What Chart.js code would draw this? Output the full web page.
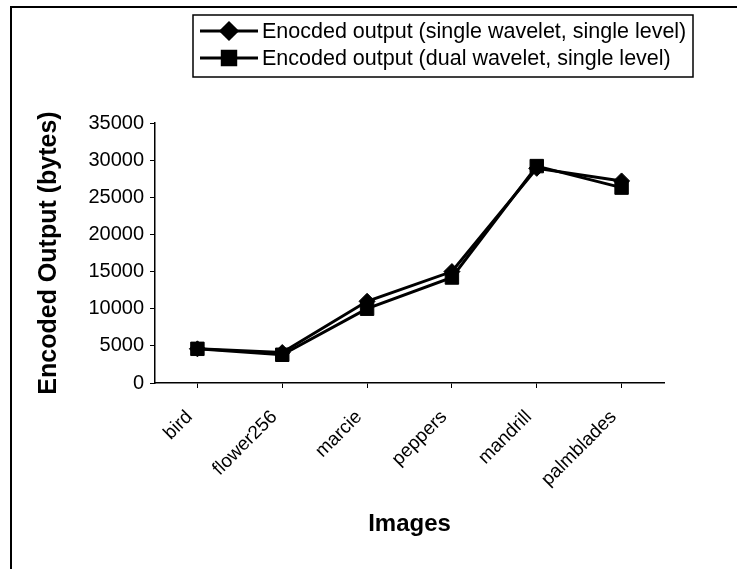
<!DOCTYPE html>
<html>
<head>
<meta charset="utf-8">
<script src="https://cdn.jsdelivr.net/npm/chart.js@4.4.1/dist/chart.umd.min.js"></script>
<style>
  html, body { margin: 0; padding: 0; background: #fff; }
  #wrap { position: relative; width: 737px; height: 569px; overflow: hidden; }
  #frame { position: absolute; left: 10px; top: 6px; right: -5px; bottom: -5px;
           border-left: 2px solid #000; border-top: 2px solid #000; }
  canvas { position: absolute; left: 0; top: 0; }
</style>
</head>
<body>
<div id="wrap">
  <div id="frame"></div>
  <canvas id="chart" width="737" height="569"></canvas>
</div>
<script>
// data
const categories = ['bird', 'flower256', 'marcie', 'peppers', 'mandrill', 'palmblades'];
const singleWavelet = [4600, 4100, 11000, 15000, 28900, 27200];
const dualWavelet = [4600, 3800, 10000, 14200, 29200, 26300];
const seriesLabels = [
    'Enocded output (single wavelet, single level)',
    'Encoded output (dual wavelet, single level)'
];
const yMin = 0, yMax = 35000, yStep = 5000;

const FONT = '"Liberation Sans", Arial, sans-serif';

// boxed legend with line + marker samples, like the Excel one
const boxLegend = {
    id: 'boxLegend',
    afterDraw(chart) {
        const ctx = chart.ctx;
        const box = { x: 193, y: 15, w: 500, h: 62 };
        ctx.save();
        ctx.strokeStyle = '#000';
        ctx.lineWidth = 1.5;
        ctx.strokeRect(box.x, box.y, box.w, box.h);
        chart.data.datasets.forEach((ds, i) => {
            const y = box.y + 16 + i * 27;
            ctx.strokeStyle = '#000';
            ctx.lineWidth = 3;
            ctx.beginPath();
            ctx.moveTo(200, y);
            ctx.lineTo(258, y);
            ctx.stroke();
            ctx.fillStyle = '#000';
            Chart.helpers.drawPoint(ctx, {
                pointStyle: ds.pointStyle,
                radius: ds.pointRadius,
                borderWidth: 1
            }, 229, y);
            ctx.font = '21.5px ' + FONT;
            ctx.textBaseline = 'middle';
            ctx.fillText(ds.label, 262, y + 1);
        });
        ctx.restore();
    }
};

new Chart(document.getElementById('chart'), {
    type: 'line',
    data: {
        labels: categories,
        datasets: [{
            label: seriesLabels[0],
            data: singleWavelet,
            borderColor: '#000',
            backgroundColor: '#000',
            borderWidth: 3,
            pointStyle: 'rectRot',
            pointRadius: 8,
            pointBorderWidth: 1
        }, {
            label: seriesLabels[1],
            data: dualWavelet,
            borderColor: '#000',
            backgroundColor: '#000',
            borderWidth: 3,
            pointStyle: 'rect',
            pointRadius: 9.5,
            pointBorderWidth: 1
        }]
    },
    options: {
        responsive: false,
        animation: false,
        layout: { padding: { left: 34, top: 123, right: 73, bottom: 30 } },
        plugins: { legend: { display: false }, tooltip: { enabled: false } },
        scales: {
            x: {
                offset: true,
                afterFit(scale) { scale.height = 156; },
                border: { display: true, color: '#000', width: 1.5 },
                grid: { drawOnChartArea: false, color: '#000', tickLength: 5, lineWidth: 1 },
                ticks: {
                    color: '#000', font: { family: FONT, size: 19 },
                    minRotation: 45, maxRotation: 45, padding: 18, labelOffset: -8
                },
                title: {
                    display: true, text: 'Images', color: '#000',
                    font: { family: FONT, size: 24, weight: 'bold' }, padding: 0
                }
            },
            y: {
                min: yMin, max: yMax,
                afterFit(scale) { scale.width = 155 - 34; },
                border: { display: true, color: '#000', width: 1.5 },
                grid: { drawOnChartArea: false, color: '#000', tickLength: 5, lineWidth: 1 },
                ticks: {
                    stepSize: yStep, color: '#000',
                    font: { family: FONT, size: 20 }, padding: 6,
                    callback: v => String(v)
                },
                title: {
                    display: true, text: 'Encoded Output (bytes)', color: '#000',
                    font: { family: FONT, size: 25, weight: 'bold' }, padding: 0
                }
            }
        }
    },
    plugins: [boxLegend]
});
</script>
</body>
</html>
